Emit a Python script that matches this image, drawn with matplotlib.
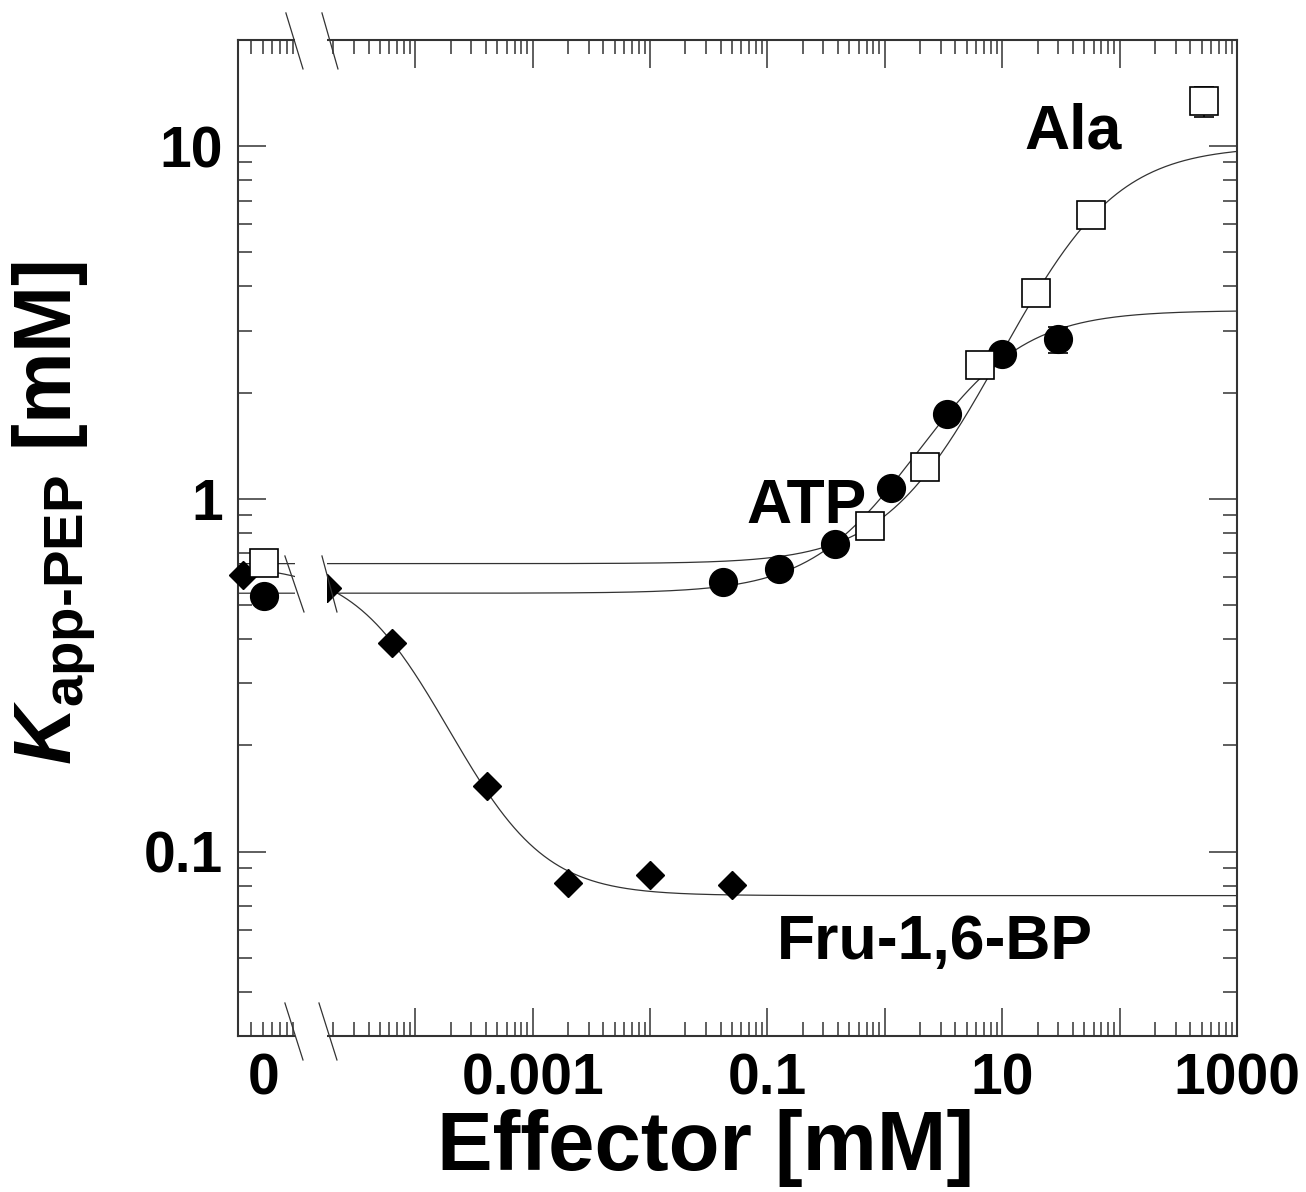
import numpy as np
import matplotlib.pyplot as plt
from matplotlib.patches import Rectangle
from matplotlib.ticker import LogLocator, NullFormatter

plt.rcParams['font.family'] = ['Liberation Sans', 'DejaVu Sans']
plt.rcParams['font.weight'] = 'bold'
plt.rcParams['mathtext.fontset'] = 'custom'
plt.rcParams['mathtext.rm'] = 'Liberation Sans:bold'
plt.rcParams['mathtext.it'] = 'Liberation Sans:bold:italic'
plt.rcParams['mathtext.bf'] = 'Liberation Sans:bold'

# effector [mM] vs K_app-PEP [mM]; conc 0 = no effector
ala_conc = [0, 0.75, 2.2, 6.5, 19.6, 57, 520]
ala_k = [0.658, 0.839, 1.23, 2.39, 3.83, 6.36, 13.4]
ala_err = [0, 0, 0, 0, 0, 0, 1.3]

atp_conc = [0, 0.042, 0.125, 0.375, 1.13, 3.36, 9.9, 29.7]
atp_k = [0.532, 0.581, 0.633, 0.746, 1.076, 1.74, 2.57, 2.83]
atp_err = [0, 0, 0, 0, 0, 0, 0, 0.24]

fbp_conc = [0, 1.76e-5, 6.3e-5, 4.1e-4, 2.0e-3, 0.010, 0.050]
fbp_k = [0.607, 0.560, 0.389, 0.153, 0.0813, 0.0858, 0.0805]

# Hill fits: K0, Kinf, K50, n
ala_fit = [0.655, 10.0, 38.0, 1.0]
atp_fit = [0.54, 3.42, 4.8, 1.0]
fbp_fit = [0.65, 0.075, 7.6e-5, 1.15]

# where the "0" points sit on the log axis
zero_pos = 5.1e-6
zero_pos_fbp = 3.4e-6

xmin, xmax = 3.08e-6, 1000
lc = '#333333'


def hill(x, p):
    k0, kinf, k50, n = p
    r = (x / k50) ** n
    return k0 + (kinf - k0) * r / (1 + r)


def xpos(conc, zp):
    c = np.array(conc, dtype=float)
    c[c == 0] = zp
    return c


fig = plt.figure(figsize=(13.06, 11.92), dpi=100)
ax = fig.add_axes([0.1822, 0.1309, 0.7649, 0.8356])
ax.set_xscale('log')
ax.set_yscale('log')

xf = np.logspace(np.log10(xmin), np.log10(xmax), 800)
for p in [ala_fit, atp_fit, fbp_fit]:
    ax.plot(xf, hill(xf, p), color=lc, lw=0.9, zorder=2)

# error bars (only where visible)
for conc, k, err, zp in [(ala_conc, ala_k, ala_err, zero_pos),
                         (atp_conc, atp_k, atp_err, zero_pos)]:
    x = xpos(conc, zp)
    e = np.array(err)
    m = e > 0
    ax.errorbar(x[m], np.array(k)[m], yerr=e[m], fmt='none', ecolor='black',
                elinewidth=1.2, capsize=7, capthick=1.2, zorder=2.5)

ax.plot(xpos(fbp_conc, zero_pos_fbp), fbp_k, 'D', ms=14, color='black',
        zorder=3, clip_on=False)
ax.plot(xpos(atp_conc, zero_pos), atp_k, 'o', ms=20, color='black',
        zorder=3, clip_on=False)
ax.plot(xpos(ala_conc, zero_pos), ala_k, 's', ms=20, mfc='white', mec='black',
        mew=1.2, zorder=3, clip_on=False)

ax.set_xlim(xmin, xmax)
ax.set_ylim(0.03, 20)

decades = [1e-5, 1e-4, 1e-3, 1e-2, 1e-1, 1, 10, 100, 1000]
dec_labels = ['', '', '0.001', '', '0.1', '', '10', '', '1000']
ax.set_xticks([zero_pos] + decades, ['0'] + dec_labels)
ax.xaxis.set_minor_locator(LogLocator(base=10, subs=np.arange(2, 10), numticks=100))
ax.xaxis.set_minor_formatter(NullFormatter())
ax.set_yticks([0.1, 1, 10], ['0.1', '1', '10'])
ax.yaxis.set_minor_locator(LogLocator(base=10, subs=np.arange(2, 10), numticks=100))
ax.yaxis.set_minor_formatter(NullFormatter())

ax.tick_params(which='both', direction='in', top=True, right=True, color=lc,
               width=1.1, labelsize=41)
ax.tick_params(which='major', length=20)
ax.tick_params(which='minor', length=10)
ax.tick_params(axis='x', pad=12)
ax.tick_params(axis='y', pad=11)
t0 = ax.xaxis.get_major_ticks()[0]
t0.tick1line.set_visible(False)
t0.tick2line.set_visible(False)

for s in ax.spines.values():
    s.set_linewidth(1.5)
    s.set_color(lc)

# axis break
ax.add_patch(Rectangle((0.0571, -0.01), 0.032, 1.02, transform=ax.transAxes,
                       facecolor='white', edgecolor='none', zorder=10, clip_on=False))
slashes = [
    (0.0480, 1.0271, 0.0651, 0.9709), (0.0841, 1.0271, 0.1001, 0.9709),
    (0.0470, 0.0331, 0.0651, -0.0241), (0.0811, 0.0331, 0.0991, -0.0241),
    (0.0470, 0.4819, 0.0661, 0.4257), (0.0841, 0.4819, 0.0991, 0.4257),
]
for x0, y0, x1, y1 in slashes:
    ax.plot([x0, x1], [y0, y1], transform=ax.transAxes, color=lc, lw=0.9,
            clip_on=False, zorder=11)

ax.text(40.4, 9.84, 'Ala', fontsize=45, ha='center', va='baseline')
ax.text(0.217, 0.855, 'ATP', fontsize=45, ha='center', va='baseline')
ax.text(2.65, 0.0497, 'Fru-1,6-BP', fontsize=45, ha='center', va='baseline')

fig.text(0.5406, 0.0370, 'Effector [mM]', fontsize=60, ha='center', va='center')
fig.text(0.0421, 0.5696, r'$K_{\mathrm{app}\text{-}\mathrm{PEP}}$ [mM]', fontsize=58,
         rotation=90, ha='center', va='center')

plt.savefig('out.png', dpi=100)
